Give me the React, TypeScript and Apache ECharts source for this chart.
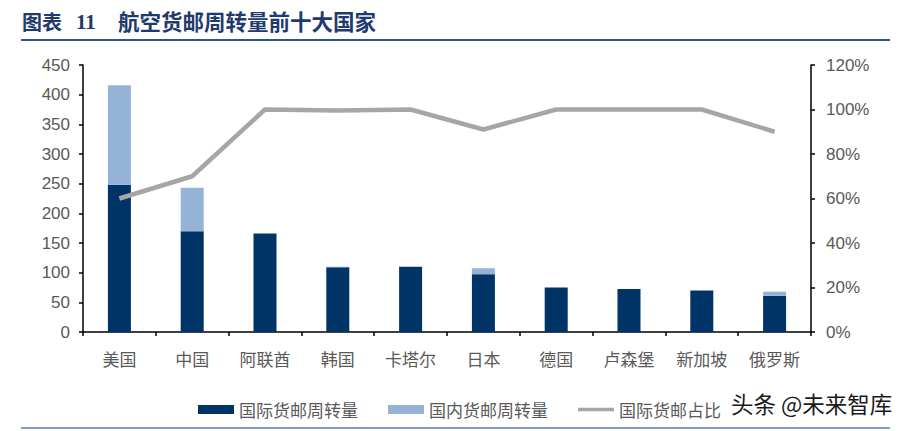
import React, { useEffect, useRef } from "react";
import * as echarts from "echarts";

const categories = ["美国", "中国", "阿联酋", "韩国", "卡塔尔", "日本", "德国", "卢森堡", "新加坡", "俄罗斯"];
const intlValues = [248, 170, 166, 109, 110, 97.5, 75, 72.5, 70, 61];
const domValues = [168, 73, 0, 1, 0, 10, 0, 0, 0.5, 7];
const intlShare = [60, 70, 100, 99.5, 100, 91, 100, 100, 100, 90];
const leftTicks = { min: 0, max: 450, interval: 50 };
const rightTicks = { min: 0, max: 120, interval: 20 };

const FONT = "'Liberation Sans', Arial, 'Noto Sans CJK SC', sans-serif";
const CJK = "'Noto Sans CJK SC', sans-serif";
const LABEL_COLOR = "#595959";

export default function App() {
  const ref = useRef<HTMLDivElement>(null);
  useEffect(() => {
    if (!ref.current) return;
    const chart = echarts.init(ref.current, null, { renderer: "svg" });
    chart.setOption({
      animation: false,
      backgroundColor: "#ffffff",
      textStyle: { fontFamily: FONT },
      grid: { left: 83, right: 95, top: 65, bottom: 99, containLabel: false },
      legend: {
        left: 193,
        top: 396,
        itemWidth: 36,
        itemHeight: 9,
        itemGap: 30,
        textStyle: { fontSize: 17, color: LABEL_COLOR, fontFamily: CJK },
        data: [
          { name: "国际货邮周转量", icon: "rect" },
          { name: "国内货邮周转量", icon: "rect" },
          { name: "国际货邮占比", icon: "path://M0,0H40V4H0Z" },
        ],
      },
      xAxis: {
        type: "category",
        data: categories,
        axisLine: { lineStyle: { color: "#000", width: 1.5 } },
        axisTick: { show: true, alignWithLabel: false, length: 4, lineStyle: { color: "#000", width: 1.5 } },
        axisLabel: { fontSize: 17, color: LABEL_COLOR, margin: 18, fontFamily: CJK },
      },
      yAxis: [
        {
          type: "value",
          min: leftTicks.min,
          max: leftTicks.max,
          interval: leftTicks.interval,
          splitLine: { show: false },
          axisLine: { show: true, lineStyle: { color: "#000", width: 1.5 } },
          axisTick: { show: true, length: 4, lineStyle: { color: "#000", width: 1.5 } },
          axisLabel: { fontSize: 17, color: LABEL_COLOR, margin: 13 },
        },
        {
          type: "value",
          position: "right",
          min: rightTicks.min,
          max: rightTicks.max,
          interval: rightTicks.interval,
          splitLine: { show: false },
          axisLine: { show: true, lineStyle: { color: "#000", width: 1.5 } },
          axisTick: { show: true, length: 4, lineStyle: { color: "#000", width: 1.5 } },
          axisLabel: { fontSize: 17, color: LABEL_COLOR, margin: 15, formatter: "{value}%" },
        },
      ],
      series: [
        {
          name: "国际货邮周转量",
          type: "bar",
          stack: "total",
          barWidth: 23,
          data: intlValues,
          itemStyle: { color: "#003366" },
        },
        {
          name: "国内货邮周转量",
          type: "bar",
          stack: "total",
          barWidth: 23,
          data: domValues,
          itemStyle: { color: "#95B3D7" },
        },
        {
          name: "国际货邮占比",
          type: "line",
          yAxisIndex: 1,
          data: intlShare,
          symbol: "none",
          lineStyle: { color: "#A6A6A6", width: 4.5 },
          itemStyle: { color: "#A6A6A6" },
        },
      ],
      graphic: [
        {
          type: "text",
          left: 22,
          top: 11,
          style: { text: "图表", fontSize: 20, fontWeight: "bold", fill: "#1F3A6E", fontFamily: CJK },
        },
        {
          type: "text",
          left: 76,
          top: 11,
          style: { text: "11", fontSize: 21, fontWeight: "bold", fill: "#1F3A6E", fontFamily: "'Liberation Serif', serif" },
        },
        {
          type: "text",
          left: 118,
          top: 10,
          style: {
            text: "航空货邮周转量前十大国家",
            fontSize: 21.5,
            fontWeight: "bold",
            fill: "#1F3A6E",
            fontFamily: CJK,
          },
        },
        {
          type: "line",
          shape: { x1: 21, y1: 40, x2: 890, y2: 40 },
          style: { stroke: "#2E5591", lineWidth: 2 },
        },
        {
          type: "line",
          shape: { x1: 21, y1: 428, x2: 890, y2: 428 },
          style: { stroke: "#5A7FB5", lineWidth: 1.5 },
        },
        {
          type: "text",
          left: 731,
          top: 392,
          style: { text: "头条 @未来智库", fontSize: 22.5, fill: "#1a1a1a", fontFamily: CJK },
        },
      ],
    });
    return () => chart.dispose();
  }, []);
  return <div ref={ref} style={{ position: "fixed", left: 0, top: 0, width: 906, height: 431 }} />;
}
